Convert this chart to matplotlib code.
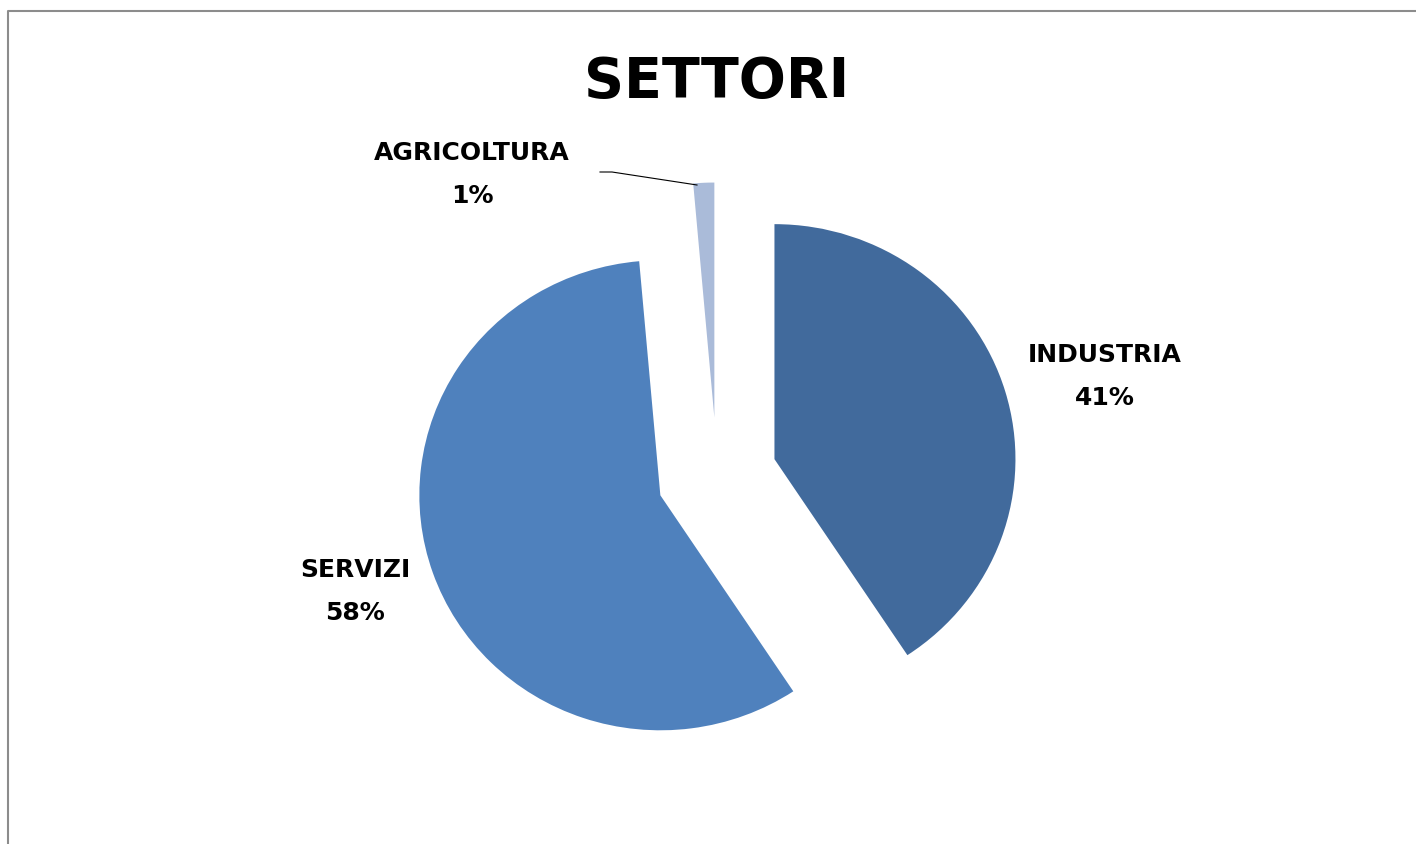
import matplotlib.pyplot as plt

categorie = ['INDUSTRIA', 'SERVIZI', 'AGRICOLTURA']
valori = [40.7, 57.9, 1.4]
colori = ['#416A9C', '#4F81BD', '#AABBD9']

W, H = 1416, 845
k = 241 / 235  # la torta originale e' leggermente schiacciata in verticale


def py(y):
    # da pixel (dall'alto) a coordinate dati
    return (H - y) * k


fig = plt.figure(figsize=(W / 100, H / 100), dpi=100)
ax = fig.add_axes([0, 0, 1, 1])

# torta esplosa
ax.pie(valori, colors=colori, startangle=90, counterclock=False,
       explode=[60, 60, 60], radius=241, center=(717, py(477)),
       wedgeprops=dict(linewidth=0))
ax.set_aspect('auto')
ax.set_xlim(0, W)
ax.set_ylim(0, H * k)
ax.axis('off')

font = 'DejaVu Sans'
ax.text(717, py(97), 'SETTORI', ha='center', va='baseline', fontsize=40,
        fontweight='bold', family=font)

pos_etichette = [(1105, 377), (355, 592), (472, 175)]
for nome, v, (x, y) in zip(categorie, valori, pos_etichette):
    ax.text(x, py(y), f'{nome}\n{round(v)}%', ha='center', va='center',
            fontsize=18, fontweight='bold', family=font, linespacing=2.0)

# linea guida agricoltura
ax.plot([600, 612, 697], [py(173), py(173), py(186)], color='black', lw=0.8)

# cornice
ax.plot([8, 8, W], [0, py(11.5), py(11.5)], color='#8c8c8c', lw=1.5,
        solid_capstyle='butt')

fig.savefig('out.png', dpi=100)
